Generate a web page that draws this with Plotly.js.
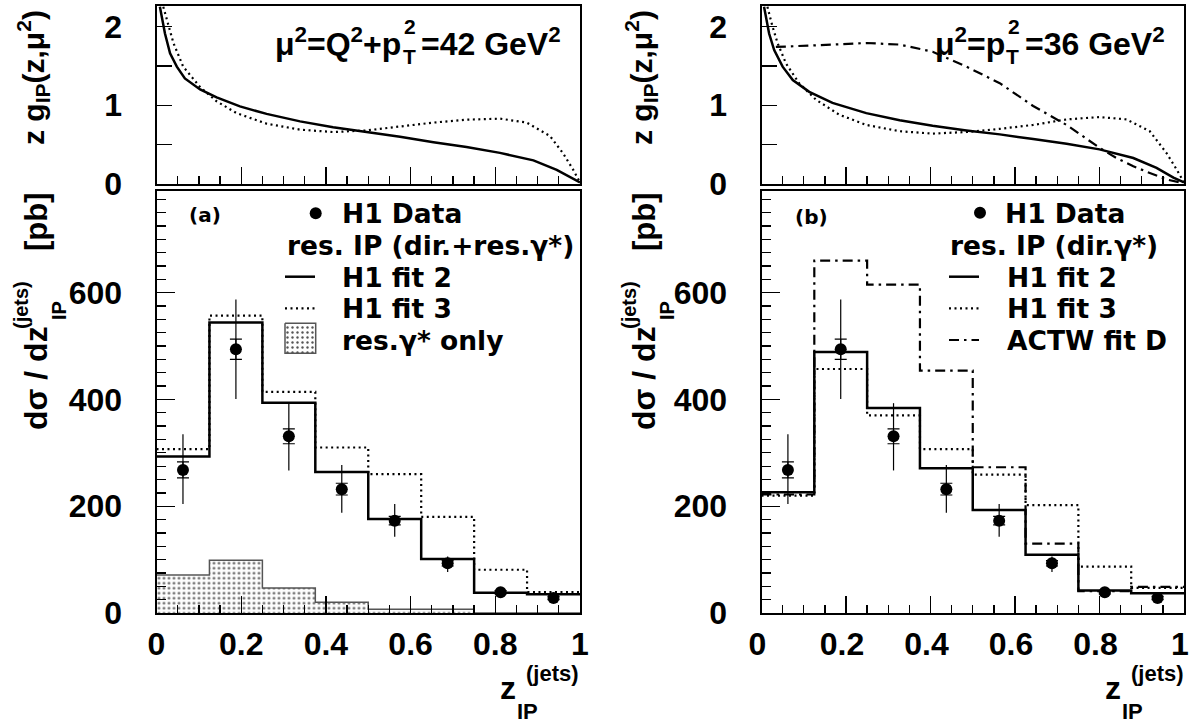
<!DOCTYPE html>
<html><head><meta charset="utf-8">
<script src="https://cdn.plot.ly/plotly-3.0.1.min.js"></script>
<style>html,body{margin:0;padding:0;background:#fff}</style>
</head><body>
<div id="chart" style="width:1191px;height:723px"></div>
<script>
// ---------------- DATA ----------------
const binEdges = [0, 0.125, 0.25, 0.375, 0.5, 0.625, 0.75, 0.875, 1.0];
const binCenters = [0.0625, 0.1875, 0.3125, 0.4375, 0.5625, 0.6875, 0.8125, 0.9375];
const h1Data = [268, 494, 331, 232, 173, 93, 39, 28];
const h1Stat = [15, 19, 14, 11, 8, 5, 3, 3];
const h1TotUp = [67, 93, 62, 45, 31, 13, 6, 5];
const h1TotDn = [64, 93, 64, 44, 30, 16, 6, 5];

// panel (a): resolved pomeron, direct + resolved photon
const aFit2 = [293, 544, 394, 264, 176, 101, 38, 35];
const aFit3 = [307, 557, 414, 310, 260, 180, 81, 39];
const aResGamma = [71, 99, 47, 20, 7, 7, 0, 0];

// panel (b): resolved pomeron, direct photon
const bFit2 = [226, 489, 384, 271, 193, 109, 42, 37];
const bFit3 = [220, 457, 370, 307, 259, 202, 87, 47];
const bActwD = [222, 660, 615, 454, 273, 130, 41, 49];

// upper panels: gluon density z g(z, mu^2)
const zA2 = [0.008, 0.02, 0.032, 0.048, 0.067, 0.103, 0.142, 0.197, 0.26, 0.339, 0.417, 0.496, 0.575, 0.654, 0.732, 0.811, 0.89, 0.945, 0.976, 1.0];
const gA2 = [2.25, 1.91, 1.66, 1.49, 1.34, 1.20, 1.10, 0.985, 0.89, 0.795, 0.72, 0.66, 0.60, 0.53, 0.47, 0.395, 0.30, 0.18, 0.086, 0.02];
const zA3 = [0.016, 0.028, 0.04, 0.063, 0.103, 0.142, 0.189, 0.26, 0.339, 0.417, 0.496, 0.575, 0.654, 0.732, 0.811, 0.874, 0.929, 0.96, 0.984, 1.0];
const gA3 = [2.25, 2.02, 1.79, 1.49, 1.23, 1.05, 0.90, 0.766, 0.69, 0.66, 0.68, 0.73, 0.78, 0.816, 0.83, 0.78, 0.61, 0.39, 0.18, 0.02];
const zB2 = [0.006, 0.018, 0.03, 0.05, 0.074, 0.113, 0.168, 0.248, 0.327, 0.405, 0.485, 0.564, 0.643, 0.722, 0.80, 0.88, 0.935, 0.975, 1.0];
const gB2 = [2.25, 1.91, 1.70, 1.49, 1.32, 1.17, 1.03, 0.90, 0.81, 0.74, 0.68, 0.63, 0.57, 0.51, 0.44, 0.33, 0.205, 0.08, 0.02];
const zB3 = [0.014, 0.026, 0.038, 0.058, 0.089, 0.129, 0.184, 0.248, 0.327, 0.405, 0.485, 0.564, 0.643, 0.722, 0.80, 0.864, 0.919, 0.959, 0.983, 1.0];
const gB3 = [2.25, 2.0, 1.79, 1.53, 1.28, 1.07, 0.88, 0.75, 0.67, 0.64, 0.66, 0.70, 0.75, 0.82, 0.85, 0.82, 0.67, 0.39, 0.18, 0.02];
const zBD = [0.034, 0.089, 0.168, 0.248, 0.327, 0.405, 0.445, 0.485, 0.564, 0.643, 0.722, 0.761, 0.80, 0.84, 0.88, 0.919, 0.959, 0.99];
const gBD = [1.74, 1.75, 1.77, 1.79, 1.77, 1.68, 1.58, 1.49, 1.28, 0.99, 0.75, 0.605, 0.46, 0.33, 0.225, 0.14, 0.057, 0.02];

const xTickVals = [0, 0.2, 0.4, 0.6, 0.8, 1];
const xTickText = ['0', '0.2', '0.4', '0.6', '0.8', '1'];
const gTickVals = [0, 1, 2];
const gTickText = ['0', '1', '2'];
const sTickVals = [0, 200, 400, 600];
const sTickText = ['0', '200', '400', '600'];

// ---------------- STYLE / LAYOUT ----------------
const W = 1191, H = 723;
const fx = X => X / W;
const fy = Y => 1 - Y / H;
const SANS = 'Liberation Sans, Arial, sans-serif';
const DJ = 'DejaVu Sans, sans-serif';
const SOLID = {color: 'black', width: 2.5};
const DOT = {color: 'black', width: 2.2, dash: '2px,3.5px'};
const DASHDOT = {color: 'black', width: 2.2, dash: '10px,5px,2.5px,5px'};
const HATCH = {shape: '.', fgcolor: '#555', bgcolor: '#fdfdfd', size: 5, solidity: 0.18};

function hist(vals) { return vals.concat([vals[vals.length - 1]]); }
function histTrace(vals, line, xa, ya) {
  return {type: 'scatter', mode: 'lines', x: binEdges, y: hist(vals), line: Object.assign({shape: 'hv'}, line),
          xaxis: xa, yaxis: ya, hoverinfo: 'skip'};
}
function curve(z, g, line, xa, ya) {
  return {type: 'scatter', mode: 'lines', x: z, y: g, line: line, xaxis: xa, yaxis: ya, hoverinfo: 'skip'};
}
function dataTraces(xa, ya) {
  return [
    {type: 'scatter', mode: 'markers', x: binCenters, y: h1Data, xaxis: xa, yaxis: ya,
     marker: {size: 1, color: 'rgba(0,0,0,0)'},
     error_y: {type: 'data', array: h1Stat, thickness: 1.2, width: 6, color: 'black'}},
    {type: 'scatter', mode: 'markers', x: binCenters, y: h1Data, xaxis: xa, yaxis: ya,
     marker: {size: 12, color: 'black'},
     error_y: {type: 'data', symmetric: false, array: h1TotUp, arrayminus: h1TotDn, thickness: 1.2, width: 0, color: 'black'}}
  ];
}

const traces = [];
// top-left
traces.push(curve(zA3, gA3, DOT, 'x', 'y'));
traces.push(curve(zA2, gA2, SOLID, 'x', 'y'));
// bottom-left
traces.push({type: 'scatter', mode: 'lines', x: binEdges, y: hist(aResGamma), xaxis: 'x2', yaxis: 'y2',
  line: {shape: 'hv', color: '#555', width: 1.5}, fill: 'tozeroy', fillcolor: 'white',
  fillpattern: HATCH, hoverinfo: 'skip'});
traces.push(histTrace(aFit3, DOT, 'x2', 'y2'));
traces.push(histTrace(aFit2, SOLID, 'x2', 'y2'));
dataTraces('x2', 'y2').forEach(t => traces.push(t));
// top-right
traces.push(curve(zBD, gBD, DASHDOT, 'x3', 'y3'));
traces.push(curve(zB3, gB3, DOT, 'x3', 'y3'));
traces.push(curve(zB2, gB2, SOLID, 'x3', 'y3'));
// bottom-right
traces.push(histTrace(bActwD, DASHDOT, 'x4', 'y4'));
traces.push(histTrace(bFit3, DOT, 'x4', 'y4'));
traces.push(histTrace(bFit2, SOLID, 'x4', 'y4'));
dataTraces('x4', 'y4').forEach(t => traces.push(t));
// legend glyph (hatched box) on a full-page pixel overlay
const boxL = 285, boxR = 315.7, boxT = 323.3, boxB = 353.3;
traces.push({type: 'scatter', mode: 'lines', x: [boxL, boxR, boxR, boxL, boxL], y: [boxT, boxT, boxB, boxB, boxT],
  xaxis: 'x5', yaxis: 'y5', fill: 'toself', fillcolor: 'white', line: {color: '#555', width: 1.5},
  fillpattern: HATCH, hoverinfo: 'skip'});

const tickFont = {family: SANS, size: 32, color: 'black', weight: 'bold'};
function xAxis(dom, anchor, labels, shift) {
  return {domain: dom, anchor: anchor, range: [0, 1], tickmode: 'array', tickvals: xTickVals, ticktext: xTickText,
    showticklabels: labels, ticks: 'inside', ticklen: 17, tickwidth: 1.3, tickcolor: 'black',
    minor: {ticks: 'inside', dtick: 0.05, tick0: 0, ticklen: 8, tickwidth: 1.3, tickcolor: 'black', showgrid: false},
    showline: true, linewidth: 2, linecolor: 'black', mirror: true, showgrid: false, zeroline: false,
    tickfont: tickFont, ticklabelstandoff: 2, ticklabelshift: shift || 0, ticklabeloverflow: 'allow', fixedrange: true};
}
function gAxis(dom, anchor) {
  return {domain: dom, anchor: anchor, range: [0, 2.26], tickmode: 'array', tickvals: gTickVals, ticktext: gTickText,
    ticks: 'inside', ticklen: 15, tickwidth: 1.3, tickcolor: 'black',
    minor: {ticks: 'inside', dtick: 0.5, tick0: 0, ticklen: 15, tickwidth: 1.3, tickcolor: 'black', showgrid: false},
    showline: true, linewidth: 2, linecolor: 'black', mirror: true, showgrid: false, zeroline: false,
    tickfont: tickFont, ticklabelstandoff: 26, fixedrange: true};
}
function sAxis(dom, anchor) {
  return {domain: dom, anchor: anchor, range: [0, 791], tickmode: 'array', tickvals: sTickVals, ticktext: sTickText,
    ticks: 'inside', ticklen: 18, tickwidth: 1.3, tickcolor: 'black',
    minor: {ticks: 'inside', dtick: 25, tick0: 0, ticklen: 9, tickwidth: 1.3, tickcolor: 'black', showgrid: false},
    showline: true, linewidth: 2, linecolor: 'black', mirror: true, showgrid: false, zeroline: false,
    tickfont: tickFont, ticklabelstandoff: 26, fixedrange: true};
}
const xL = [fx(156.5), fx(580)];
const xR = [fx(761.5), fx(1184)];
const yT = [fy(184), fy(6)];
const yB = [fy(613), fy(190.7)];

function ann(text, X, Y, size, o) {
  o = o || {};
  return {xref: 'paper', yref: 'paper', x: fx(X), y: fy(Y), text: text, showarrow: false,
    font: {family: o.family || SANS, size: size, color: 'black', weight: 'bold'},
    xanchor: o.xanchor || 'center', yanchor: o.yanchor || 'middle', textangle: o.angle || 0};
}
const annotations = [];
const shapes = [];
function yTitles(dx) {
  annotations.push(ann('z g<sub>IP</sub>(z,μ<sup>2</sup>)', 33 + dx, 78, 30, {angle: -90}));
  annotations.push(ann('dσ / dz', 36 + dx, 378, 32, {angle: -90}));
  annotations.push(ann('(jets)', 21 + dx, 305, 20, {angle: -90}));
  annotations.push(ann('IP', 59 + dx, 311, 20, {angle: -90}));
  annotations.push(ann('[pb]', 36 + dx, 222, 31, {angle: -90}));
}
function xTitle(dx) {
  annotations.push(ann('z', 508 + dx, 688, 32));
  annotations.push(ann('(jets)', 552 + dx, 673, 22));
  annotations.push(ann('IP', 527 + dx, 711, 22));
}
yTitles(0); yTitles(608);
xTitle(0); xTitle(605);

// scale labels in the upper panels
annotations.push(ann('μ<sup>2</sup>=Q<sup>2</sup>+p', 403, 42, 32, {xanchor: 'right'}));
annotations.push(ann('2', 410, 27, 21));
annotations.push(ann('T', 409, 57, 21));
annotations.push(ann('=42 GeV<sup>2</sup>', 419, 42, 32, {xanchor: 'left'}));
annotations.push(ann('μ<sup>2</sup>=p', 1007, 42, 32, {xanchor: 'right'}));
annotations.push(ann('2', 1014, 27, 21));
annotations.push(ann('T', 1013, 57, 21));
annotations.push(ann('=36 GeV<sup>2</sup>', 1023, 42, 32, {xanchor: 'left'}));

// legends
const LF = 26.5;
annotations.push(ann('(a)', 187, 215, 20, {family: DJ, xanchor: 'left'}));
annotations.push(ann('H1 Data', 340, 213, LF, {family: DJ, xanchor: 'left'}));
annotations.push(ann('res. IP (dir.+res.γ*)', 285, 245, LF, {family: DJ, xanchor: 'left'}));
annotations.push(ann('H1 fit 2', 340, 277, LF, {family: DJ, xanchor: 'left'}));
annotations.push(ann('H1 fit 3', 340, 308, LF, {family: DJ, xanchor: 'left'}));
annotations.push(ann('res.γ* only', 340, 340, LF, {family: DJ, xanchor: 'left'}));
annotations.push(ann('(b)', 793, 217, 20, {family: DJ, xanchor: 'left'}));
annotations.push(ann('H1 Data', 1003, 213, LF, {family: DJ, xanchor: 'left'}));
annotations.push(ann('res. IP (dir.γ*)', 948, 245, LF, {family: DJ, xanchor: 'left'}));
annotations.push(ann('H1 fit 2', 1005, 277, LF, {family: DJ, xanchor: 'left'}));
annotations.push(ann('H1 fit 3', 1005, 308, LF, {family: DJ, xanchor: 'left'}));
annotations.push(ann('ACTW fit D', 1005, 340, LF, {family: DJ, xanchor: 'left'}));

function circ(X, Y, r) {
  shapes.push({type: 'circle', xref: 'paper', yref: 'paper', x0: fx(X - r), x1: fx(X + r), y0: fy(Y + r), y1: fy(Y - r),
    fillcolor: 'black', line: {width: 0}});
}
function seg(X0, X1, Y, line) {
  shapes.push({type: 'line', xref: 'paper', yref: 'paper', x0: fx(X0), x1: fx(X1), y0: fy(Y), y1: fy(Y), line: line});
}
circ(315.7, 213.3, 6);
seg(285, 315, 276.7, SOLID);
seg(285, 315, 308.3, DOT);
circ(980, 212.7, 6);
seg(949, 979, 276.7, SOLID);
seg(949, 979, 308.3, DOT);
seg(949, 979, 340, DASHDOT);

const layout = {
  width: W, height: H, margin: {l: 0, r: 0, t: 0, b: 0}, paper_bgcolor: 'white', plot_bgcolor: 'rgba(0,0,0,0)',
  showlegend: false,
  xaxis: xAxis(xL, 'y', false), yaxis: gAxis(yT, 'x'),
  xaxis2: xAxis(xL, 'y2', true), yaxis2: sAxis(yB, 'x2'),
  xaxis3: xAxis(xR, 'y3', false), yaxis3: gAxis(yT, 'x3'),
  xaxis4: xAxis(xR, 'y4', true, -4), yaxis4: sAxis(yB, 'x4'),
  xaxis5: {domain: [0, 1], anchor: 'y5', range: [0, W], visible: false, fixedrange: true},
  yaxis5: {domain: [0, 1], anchor: 'x5', range: [H, 0], visible: false, fixedrange: true},
  annotations: annotations, shapes: shapes
};
Plotly.newPlot('chart', traces, layout, {staticPlot: true, displayModeBar: false});
</script>
</body></html>
